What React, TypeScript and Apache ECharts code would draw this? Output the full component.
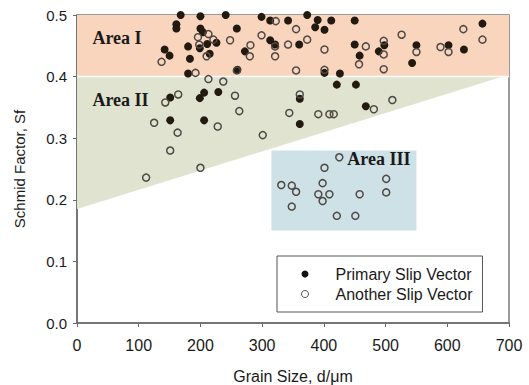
import React, { useEffect, useRef } from "react";
import * as echarts from "echarts";

// ---- data ----
const xTicks = [0, 100, 200, 300, 400, 500, 600, 700];
const yTicks = [0, 0.1, 0.2, 0.3, 0.4, 0.5];

const seriesNames = ["Primary Slip Vector", "Another Slip Vector"];

const primarySlip: number[][] = [
  [168, 0.5], [200, 0.498], [241, 0.5], [161, 0.485], [161, 0.478], [200, 0.478], [204, 0.472],
  [259, 0.478], [142, 0.444], [150, 0.434], [180, 0.449], [183, 0.429], [199, 0.446], [211, 0.453],
  [226, 0.455], [215, 0.437], [272, 0.441], [180, 0.405], [260, 0.411],
  [299, 0.497], [313, 0.491], [342, 0.491], [373, 0.5], [390, 0.492], [412, 0.491], [450, 0.491],
  [386, 0.48], [401, 0.476], [313, 0.459], [321, 0.452], [360, 0.452], [450, 0.452], [458, 0.434],
  [489, 0.441], [498, 0.451], [401, 0.406], [426, 0.405],
  [550, 0.451], [602, 0.451], [627, 0.444], [657, 0.486], [543, 0.422],
  [151, 0.366], [199, 0.365], [206, 0.374], [229, 0.375], [151, 0.329], [206, 0.329],
  [421, 0.387], [452, 0.387], [361, 0.364], [468, 0.352], [361, 0.323],
];

const anotherSlip: number[][] = [
  [213, 0.469], [196, 0.464], [221, 0.46], [248, 0.459], [198, 0.452], [210, 0.433], [137, 0.424],
  [281, 0.451], [280, 0.433], [259, 0.41], [192, 0.406],
  [322, 0.49], [355, 0.477], [299, 0.467], [321, 0.449], [321, 0.433], [342, 0.452], [373, 0.46],
  [401, 0.444], [468, 0.449], [457, 0.42], [497, 0.458], [497, 0.436], [355, 0.41], [401, 0.411],
  [497, 0.412],
  [526, 0.468], [550, 0.44], [589, 0.448], [602, 0.44], [626, 0.477], [657, 0.46],
  [143, 0.358], [164, 0.371], [213, 0.396], [237, 0.392], [256, 0.369], [263, 0.344], [344, 0.341],
  [125, 0.325], [163, 0.309], [228, 0.319], [301, 0.305], [151, 0.28], [200, 0.252], [112, 0.236],
  [361, 0.371], [481, 0.347], [511, 0.362], [391, 0.339], [409, 0.339], [416, 0.339],
  [425, 0.269], [401, 0.252], [331, 0.224], [348, 0.223], [355, 0.213], [398, 0.227], [391, 0.209],
  [409, 0.209], [398, 0.198], [458, 0.209], [501, 0.234], [501, 0.212], [348, 0.189], [421, 0.174],
  [451, 0.174],
];

// shaded regions (data coordinates)
const regionAreaI = [[0, 0.4], [700, 0.4], [700, 0.5], [0, 0.5]];
const regionAreaII = [[0, 0.4], [690, 0.4], [0, 0.185]];
const regionAreaIII = [[315, 0.15], [550, 0.15], [550, 0.28], [315, 0.28]];
const regions = [regionAreaI, regionAreaII, regionAreaIII];
const regionColors = ["#f9d5be", "#dfe3cf", "#cee1e7"];
const separatorLine = [[0, 0.4], [700, 0.4]];

const areaLabels = ["Area I", "Area II", "Area III"];
const areaLabelPos = [[25, 0.463], [25, 0.362], [438, 0.267]];

export default function App() {
  const ref = useRef<HTMLDivElement>(null);

  useEffect(() => {
    if (!ref.current) return;
    const chart = echarts.init(ref.current, null, { renderer: "svg" });
    const tickFont = { fontFamily: "Liberation Sans", fontSize: 15, color: "#1a1a1a" };

    chart.setOption({
      animation: false,
      backgroundColor: "#ffffff",
      grid: {
        left: 77, right: 20, top: 15, bottom: 62,
        outerBoundsMode: "none",
        containLabel: false,
        show: true, borderColor: "#7a7a7a", borderWidth: 1.5, backgroundColor: "transparent",
      },
      xAxis: {
        type: "value", min: xTicks[0], max: xTicks[xTicks.length - 1], interval: 100,
        name: "Grain Size, d/\u03bcm", nameLocation: "middle", nameGap: 45,
        nameTextStyle: { fontFamily: "Liberation Sans", fontSize: 16, color: "#1a1a1a" },
        axisLine: { lineStyle: { color: "#6a6a6a", width: 1.5 } },
        axisTick: { show: true, inside: false, length: 4, lineStyle: { color: "#6a6a6a" } },
        axisLabel: { ...tickFont, fontSize: 16, margin: 14 },
        splitLine: { show: false },
      },
      yAxis: {
        type: "value", min: yTicks[0], max: yTicks[yTicks.length - 1], interval: 0.1,
        name: "Schmid Factor, Sf", nameLocation: "middle", nameGap: 50,
        nameTextStyle: { fontFamily: "Liberation Sans", fontSize: 15, color: "#1a1a1a" },
        axisLine: { lineStyle: { color: "#6a6a6a", width: 1.5 } },
        axisTick: { show: true, inside: false, length: 4, lineStyle: { color: "#6a6a6a" } },
        axisLabel: { ...tickFont, margin: 10, formatter: (v: number) => v.toFixed(1) },
        splitLine: { show: false },
      },
      legend: {
        data: [
          { name: seriesNames[0], itemStyle: { color: "#111111", borderWidth: 0 } },
          { name: seriesNames[1], itemStyle: { color: "#ffffff", borderColor: "#555555", borderWidth: 1 } },
        ],
        orient: "vertical",
        left: 277, top: 256,
        padding: [10, 10, 10, 24],
        itemWidth: 7, itemHeight: 7, itemGap: 4,
        backgroundColor: "#ffffff",
        borderColor: "#555555", borderWidth: 1, borderRadius: 0,
        textStyle: {
          fontFamily: "Liberation Sans", fontSize: 16, color: "#1a1a1a", lineHeight: 15,
          padding: [0, 0, 0, 22],
        },
      },
      series: [
        {
          type: "custom",
          name: "regions",
          coordinateSystem: "cartesian2d",
          silent: true,
          z: 1,
          data: regions.map((_, i) => [i, 0]),
          renderItem: (params: any, api: any) => {
            const i = params.dataIndex;
            const children: any[] = [
              {
                type: "polygon",
                shape: { points: regions[i].map((p) => api.coord(p)) },
                style: { fill: regionColors[i] },
              },
            ];
            if (i === regions.length - 1) {
              const a = api.coord(separatorLine[0]);
              const b = api.coord(separatorLine[1]);
              children.push({
                type: "line",
                shape: { x1: a[0], y1: a[1], x2: b[0], y2: b[1] },
                style: { stroke: "#ffffff", lineWidth: 1.5 },
              });
            }
            return { type: "group", children };
          },
        },
        {
          type: "custom",
          name: "areaLabels",
          coordinateSystem: "cartesian2d",
          silent: true,
          z: 2,
          data: areaLabelPos,
          renderItem: (params: any, api: any) => {
            const p = api.coord(areaLabelPos[params.dataIndex]);
            return {
              type: "text",
              x: p[0], y: p[1],
              style: {
                text: areaLabels[params.dataIndex],
                font: 'bold 18px "Liberation Serif"',
                fill: "#1a1a1a",
                align: "left",
                verticalAlign: "middle",
              },
            };
          },
        },
        {
          type: "scatter",
          name: seriesNames[0],
          data: primarySlip,
          symbol: "circle",
          symbolSize: 8,
          z: 3,
          itemStyle: { color: "#22190f", opacity: 1 },
        },
        {
          type: "scatter",
          name: seriesNames[1],
          data: anotherSlip,
          symbol: "circle",
          symbolSize: 7,
          z: 4,
          itemStyle: { color: "rgba(255,255,255,0)", borderColor: "#4e4945", borderWidth: 1.5, opacity: 1 },
        },
      ],
    });
    return () => chart.dispose();
  }, []);

  return <div ref={ref} style={{ width: 529, height: 385, position: "absolute", left: 0, top: 0 }} />;
}
